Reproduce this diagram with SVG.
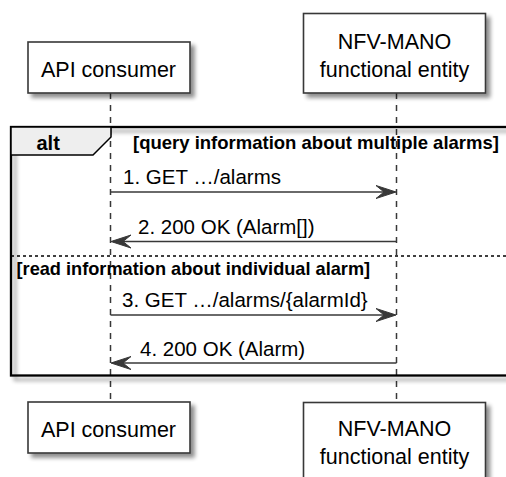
<svg xmlns="http://www.w3.org/2000/svg" width="506" height="477" viewBox="0 0 506 477">
<style>
.box{fill:#fff;stroke:#383838;stroke-width:1.6}
.ptext{font-family:"Liberation Sans",Arial,sans-serif;font-size:21.5px;fill:#000;text-anchor:middle}
.mtext{font-family:"Liberation Sans",Arial,sans-serif;font-size:20.5px;fill:#000}
.btext{font-family:"Liberation Sans",Arial,sans-serif;font-weight:bold;fill:#000}
.life{stroke:#383838;stroke-width:1.5;stroke-dasharray:6 6;fill:none}
.msg{stroke:#383838;stroke-width:1.6;fill:none}
.head{fill:#383838;stroke:#383838;stroke-width:1}
</style>
<defs>
<filter id="sh" x="-20%" y="-20%" width="150%" height="160%">
<feGaussianBlur in="SourceAlpha" stdDeviation="2"/>
<feOffset dx="4" dy="4" result="b"/>
<feComponentTransfer><feFuncA type="linear" slope="0.45"/></feComponentTransfer>
<feMerge><feMergeNode/><feMergeNode in="SourceGraphic"/></feMerge>
</filter>
</defs>
<rect width="506" height="477" fill="#fff"/>
<g id="lifelines">
<line class="life" x1="110.5" y1="93" x2="110.5" y2="402"/>
<line class="life" x1="396.5" y1="93" x2="396.5" y2="402"/>
</g>
<g id="alt-frame">
<rect x="11" y="127" width="510" height="248.5" fill="none" stroke="#000" stroke-width="2.3" filter="url(#sh)"/>
<polygon points="11,127 111,127 111,137 93,155 11,155" fill="#EEEEEE" stroke="#000" stroke-width="1.5"/>
<text class="btext" x="36.5" y="150" font-size="20px">alt</text>
<text class="btext" x="133" y="149" font-size="18.5px">[query information about multiple alarms]</text>
<line x1="11" y1="256" x2="506" y2="256" stroke="#000" stroke-width="1.3" stroke-dasharray="3 3"/>
<text class="btext" x="16.5" y="275" font-size="18.2px">[read information about individual alarm]</text>
</g>
<g id="participant-api-top">
<rect class="box" x="28" y="42" width="162" height="51" filter="url(#sh)"/>
<text class="ptext" x="108.5" y="76.5">API consumer</text>
</g>
<g id="participant-nfv-top">
<rect class="box" x="303.5" y="13.5" width="182" height="79.5" filter="url(#sh)"/>
<text class="ptext" x="394.5" y="48.5">NFV-MANO</text>
<text class="ptext" x="394.5" y="76.5">functional entity</text>
</g>
<g id="participant-api-bottom">
<rect class="box" x="28" y="402" width="162" height="51" filter="url(#sh)"/>
<text class="ptext" x="108.5" y="436.5">API consumer</text>
</g>
<g id="participant-nfv-bottom">
<rect class="box" x="303.5" y="402.5" width="182" height="80" filter="url(#sh)"/>
<text class="ptext" x="394.5" y="435.5">NFV-MANO</text>
<text class="ptext" x="394.5" y="463.5">functional entity</text>
</g>
<g id="connectors">
<line class="msg" x1="110.5" y1="192" x2="394" y2="192"/>
<polygon class="head" points="396,192 376,185.5 384,192 376,198.5"/>
<text class="mtext" x="123" y="184">1. GET …/alarms</text>
<line class="msg" x1="396.5" y1="241.5" x2="113" y2="241.5"/>
<polygon class="head" points="111,241.5 131,235 123,241.5 131,248"/>
<text class="mtext" x="138" y="234">2. 200 OK (Alarm[])</text>
<line class="msg" x1="110.5" y1="315" x2="394" y2="315"/>
<polygon class="head" points="396,315 376,308.5 384,315 376,321.5"/>
<text class="mtext" x="122" y="307">3. GET …/alarms/{alarmId}</text>
<line class="msg" x1="396.5" y1="363" x2="113" y2="363"/>
<polygon class="head" points="111,363 131,356.5 123,363 131,369.5"/>
<text class="mtext" x="140" y="356">4. 200 OK (Alarm)</text>
</g>
</svg>
